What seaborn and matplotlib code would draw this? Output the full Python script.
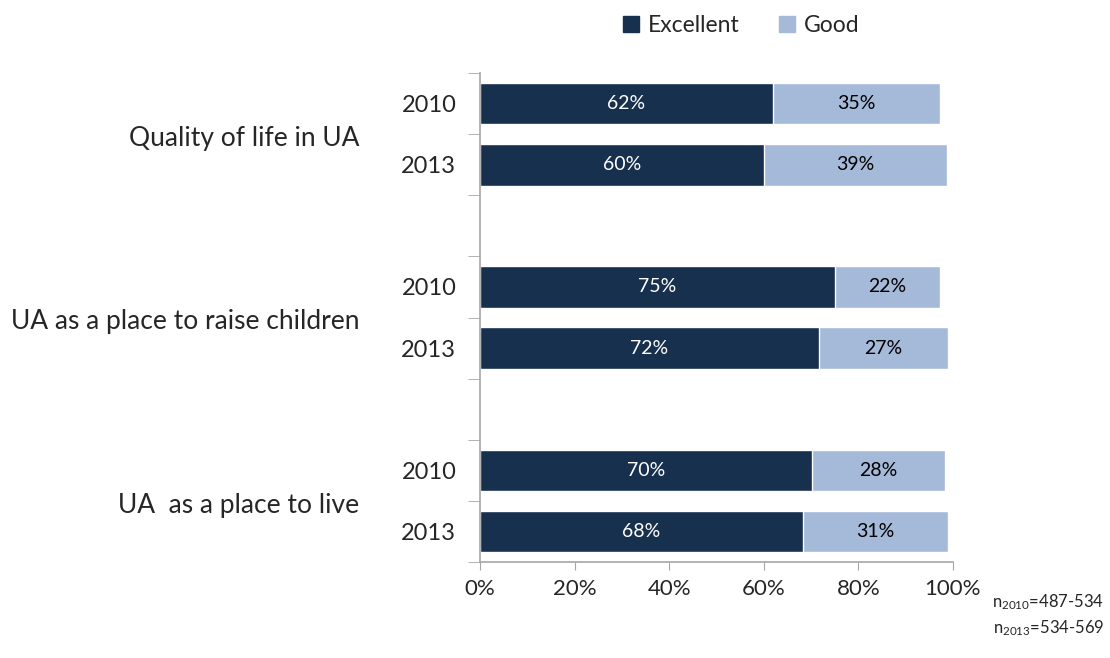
import numpy as np
import pandas as pd
import matplotlib
matplotlib.use('Agg')
from matplotlib import pyplot as plt
from matplotlib.patches import Patch
import seaborn as sns

# values (percent)
groups = ['Quality of life in UA', 'UA as a place to raise children', 'UA  as a place to live']
years = ['2010', '2013']
excellent = [61.9, 60.0, 75.1, 71.6, 70.2, 68.3]
good = [35.4, 38.7, 22.2, 27.4, 28.1, 30.6]
excellent_labels = ['62%', '60%', '75%', '72%', '70%', '68%']
good_labels = ['35%', '39%', '22%', '27%', '28%', '31%']
xticks = [0, 20, 40, 60, 80, 100]
note_2010 = '487-534'
note_2013 = '534-569'

c_exc = '#16304e'
c_good = '#a5b9d9'

sns.set_style('white')
plt.rcParams['font.family'] = ['Lato', 'DejaVu Sans']
plt.rcParams['mathtext.default'] = 'regular'

rows = []
order = []
k = 0
for gi, g in enumerate(groups):
    for y in years:
        key = f'{gi}-{y}'
        order.append(key)
        rows.append({'slot': key, 'year': y, 'excellent': excellent[k],
                     'total': excellent[k] + good[k]})
        k += 1
    if gi < len(groups) - 1:
        order.append(f'gap{gi}')
df = pd.DataFrame(rows)

fig = plt.figure(figsize=(11.1, 6.58), dpi=100)
ax = fig.add_axes([0.4324, 0.1459, 0.4261, 0.743])

sns.barplot(data=df, x='total', y='slot', order=order, color=c_good,
            width=0.68, saturation=1, ax=ax, orient='h')
sns.barplot(data=df, x='excellent', y='slot', order=order, color=c_exc,
            width=0.68, saturation=1, ax=ax, orient='h')

pos = {s: i for i, s in enumerate(order)}
for i, r in df.iterrows():
    p = pos[r['slot']]
    ax.text(r['excellent'] / 2, p, excellent_labels[i], ha='center', va='center',
            color='white', fontsize=14)
    ax.text((r['excellent'] + r['total']) / 2, p, good_labels[i], ha='center',
            va='center', color='black', fontsize=14)

ax.set_xlim(0, 100)
ax.set_ylim(len(order) - 0.5, -0.5)
ax.set_xticks(xticks)
ax.set_xticklabels([f'{t}%' for t in xticks], fontsize=16)
ax.set_yticks([pos[s] for s in df['slot']])
ax.set_yticklabels(df['year'], fontsize=17)
ax.set_yticks(np.arange(len(order) + 1) - 0.5, minor=True)
ax.tick_params(axis='y', which='major', length=0, pad=17)
ax.tick_params(axis='y', which='minor', length=9, color='#a6a6a6', direction='out', left=True)
ax.tick_params(axis='x', length=6, color='#a6a6a6', direction='out', bottom=True, pad=6)
ax.set_xlabel('')
ax.set_ylabel('')
for s in ['top', 'right']:
    ax.spines[s].set_visible(False)
for s in ['left', 'bottom']:
    ax.spines[s].set_color('#a6a6a6')
    ax.spines[s].set_linewidth(1.2)

for gi, g in enumerate(groups):
    ymid = (pos[f'{gi}-2010'] + pos[f'{gi}-2013']) / 2
    ax.annotate(g, xy=(0, ymid), xycoords=('axes fraction', 'data'),
                xytext=(-87, -3), textcoords='offset points',
                ha='right', va='center', fontsize=19)

handles = [Patch(color=c_exc, label='Excellent'), Patch(color=c_good, label='Good')]
fig.legend(handles=handles, loc='upper center', bbox_to_anchor=(0.668, 1.008),
           ncol=2, frameon=False, fontsize=16.5, handlelength=0.7, handleheight=0.7,
           handletextpad=0.4, columnspacing=1.7)

fig.text(0.995, 0.085, f'n$_{{2010}}$={note_2010}', ha='right', va='center', fontsize=12)
fig.text(0.995, 0.045, f'n$_{{2013}}$={note_2013}', ha='right', va='center', fontsize=12)

fig.savefig('out.png', dpi=100)
